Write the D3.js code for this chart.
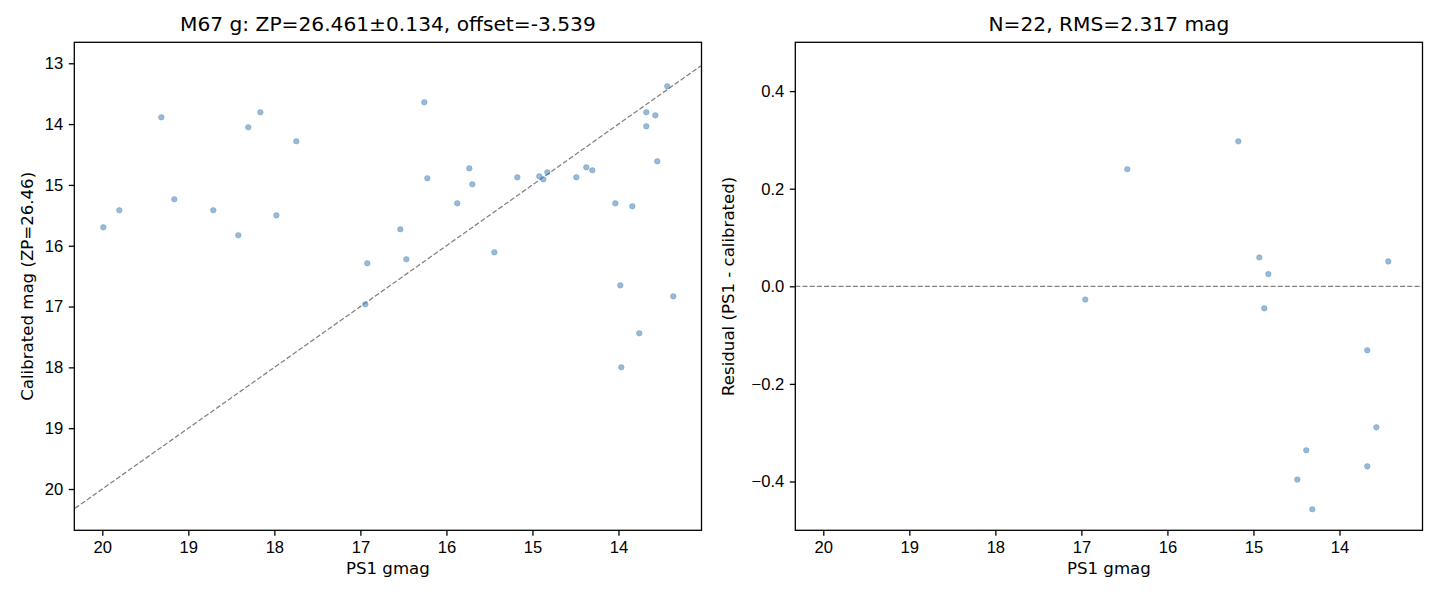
<!DOCTYPE html>
<html>
<head>
<meta charset="utf-8">
<script src="https://cdn.jsdelivr.net/npm/d3@7"></script>
<style>
  body { margin: 0; background: #fff; }
  svg { font-family: "DejaVu Sans", sans-serif; }
  .tick line { stroke: #000; stroke-width: 1.3; }
  .tick text { font-size: 16.6px; fill: #000; }
</style>
</head>
<body>
<div id="chart"></div>
<script>
// left panel: PS1 gmag vs calibrated mag
const ps1Mag = [19.988, 19.802, 19.314, 19.163, 18.710, 18.419, 18.303, 18.163, 17.977, 17.745,
  16.920, 16.943, 16.536, 16.466, 16.257, 16.222, 15.874, 15.734, 15.699, 15.443,
  15.176, 14.920, 14.874, 14.827, 14.490, 14.374, 14.304, 14.037, 13.979, 13.967,
  13.839, 13.758, 13.677, 13.677, 13.572, 13.549, 13.433, 13.363];
const calMag = [15.697, 15.417, 13.888, 15.236, 15.417, 15.828, 14.052, 13.806, 15.500, 14.283,
  16.289, 16.963, 15.730, 16.223, 13.641, 14.891, 15.302, 14.727, 14.990, 16.108,
  14.875, 14.858, 14.908, 14.792, 14.875, 14.710, 14.760, 15.302, 16.651, 17.999,
  15.352, 17.440, 13.806, 14.036, 13.855, 14.612, 13.378, 16.832];

// right panel: residuals of matched stars
const resPs1 = [16.955, 16.466, 15.176, 14.932, 14.874, 14.827, 14.490, 14.386, 14.316, 13.677, 13.677, 13.572, 13.433];
const residual = [-0.027, 0.240, 0.297, 0.059, -0.045, 0.025, -0.396, -0.336, -0.457, -0.131, -0.369, -0.289, 0.051];

const xTicks = [20, 19, 18, 17, 16, 15, 14];
const yTicksLeft = [13, 14, 15, 16, 17, 18, 19, 20];
const yTicksRight = [0.4, 0.2, 0.0, -0.2, -0.4];
const oneToOne = [12, 21];

const titleLeft = "M67 g: ZP=26.461±0.134, offset=-3.539";
const titleRight = "N=22, RMS=2.317 mag";

const svg = d3.select("#chart").append("svg")
  .attr("width", 1440)
  .attr("height", 600);

const panelW = 627.2, panelH = 488;
const plotTop = 42.3;

function panel(left, yDomain, yTicks, yFmt, clipId) {
  const g = svg.append("g").attr("transform", `translate(${left},${plotTop})`);
  const x = d3.scaleLinear().domain([20.3255, 13.035]).range([0, panelW]);
  const y = d3.scaleLinear().domain(yDomain).range([0, panelH]);

  g.append("clipPath").attr("id", clipId)
    .append("rect").attr("width", panelW).attr("height", panelH);

  g.append("g")
    .attr("transform", `translate(0,${panelH})`)
    .call(d3.axisBottom(x).tickValues(xTicks).tickSize(5.5).tickPadding(5.5).tickFormat(d3.format("d")))
    .call(a => a.select(".domain").remove());
  g.append("g")
    .call(d3.axisLeft(y).tickValues(yTicks).tickSize(5.5).tickPadding(5.5).tickFormat(yFmt))
    .call(a => a.select(".domain").remove());

  g.append("text")
    .attr("x", panelW / 2)
    .attr("y", panelH + 44)
    .attr("text-anchor", "middle")
    .attr("font-size", "16.6px")
    .text("PS1 gmag");

  return { g, x, y };
}

// left
const L = panel(74.3, [12.655, 20.679], yTicksLeft, d3.format("d"), "clipL");
L.g.append("text")
  .attr("transform", "rotate(-90)")
  .attr("x", -panelH / 2)
  .attr("y", -41.5)
  .attr("text-anchor", "middle")
  .attr("font-size", "16.6px")
  .text("Calibrated mag (ZP=26.46)");

const line = d3.line().x(d => L.x(d)).y(d => L.y(d));
L.g.append("path")
  .datum(oneToOne)
  .attr("clip-path", "url(#clipL)")
  .attr("d", line)
  .attr("fill", "none")
  .attr("stroke", "#808080")
  .attr("stroke-width", 1.25)
  .attr("stroke-dasharray", "5,2.2");

L.g.append("g").selectAll("circle")
  .data(ps1Mag)
  .join("circle")
  .attr("cx", d => L.x(d))
  .attr("cy", (d, i) => L.y(calMag[i]))
  .attr("r", 2.8)
  .attr("fill", "steelblue")
  .attr("fill-opacity", 0.55)
  .attr("stroke", "steelblue")
  .attr("stroke-opacity", 0.3)
  .attr("stroke-width", 1);

// right
const R = panel(795.3, [0.5, -0.5], yTicksRight, d3.format(".1f"), "clipR");
R.g.selectAll(".tick text").text(function () {
  return d3.select(this).text().replace("-", "\u2212");
});
R.g.append("text")
  .attr("transform", "rotate(-90)")
  .attr("x", -panelH / 2)
  .attr("y", -61)
  .attr("text-anchor", "middle")
  .attr("font-size", "16.6px")
  .text("Residual (PS1 - calibrated)");

R.g.append("line")
  .attr("x1", 0).attr("x2", panelW)
  .attr("y1", R.y(0)).attr("y2", R.y(0))
  .attr("stroke", "#808080")
  .attr("stroke-width", 1.25)
  .attr("stroke-dasharray", "5,2.2");

R.g.append("g").selectAll("circle")
  .data(resPs1)
  .join("circle")
  .attr("cx", d => R.x(d))
  .attr("cy", (d, i) => R.y(residual[i]))
  .attr("r", 2.8)
  .attr("fill", "steelblue")
  .attr("fill-opacity", 0.55)
  .attr("stroke", "steelblue")
  .attr("stroke-opacity", 0.3)
  .attr("stroke-width", 1);

// frames and titles
[[L, titleLeft], [R, titleRight]].forEach(([p, t]) => {
  p.g.append("rect")
    .attr("width", panelW).attr("height", panelH)
    .attr("fill", "none").attr("stroke", "#000").attr("stroke-width", 1.3);
  p.g.append("text")
    .attr("x", panelW / 2)
    .attr("y", -11)
    .attr("text-anchor", "middle")
    .attr("font-size", "20.2px")
    .text(t);
});
</script>
</body>
</html>
